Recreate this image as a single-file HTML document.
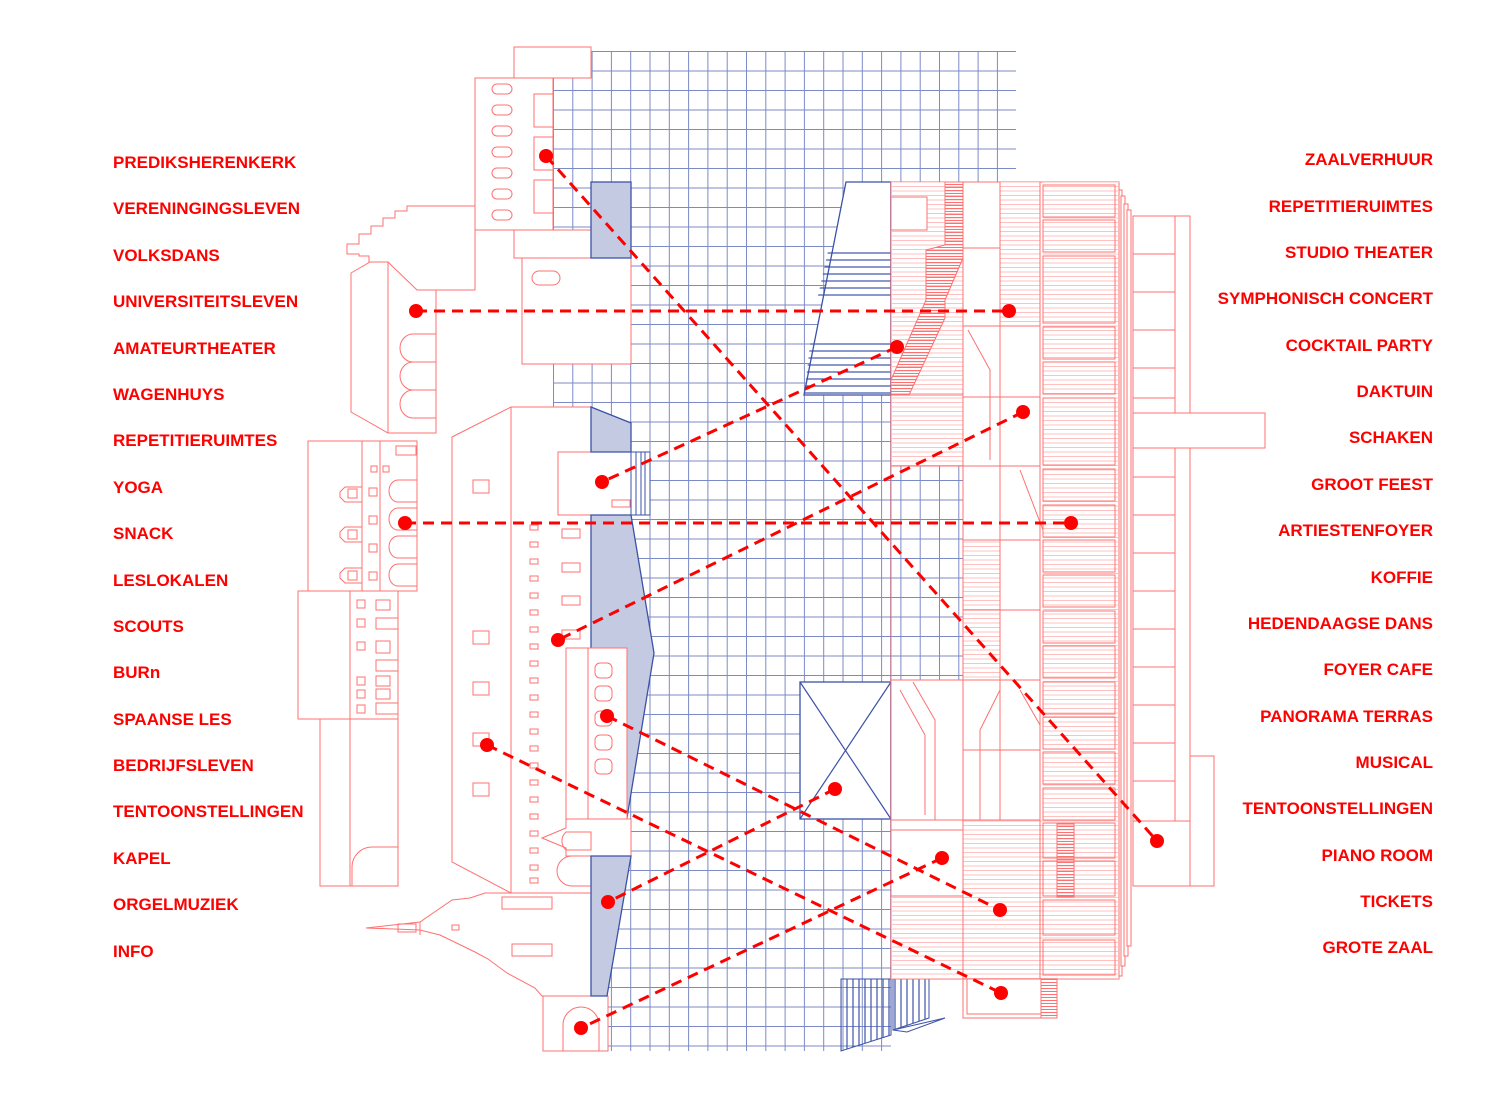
<!DOCTYPE html>
<html><head><meta charset="utf-8"><style>
html,body{margin:0;padding:0;background:#fff;}
svg{display:block;}
text{font-family:"Liberation Sans",sans-serif;font-weight:bold;font-size:17px;fill:#f00;}
</style></head><body>
<svg width="1500" height="1101" viewBox="0 0 1500 1101" xmlns="http://www.w3.org/2000/svg">
<defs>
<pattern id="grid" patternUnits="userSpaceOnUse" x="553" y="51" width="19.3" height="19.5">
<path d="M0.5 0V19.5M0 0.5H19.3" stroke="#7c8ac6" stroke-width="1" fill="none"/>
</pattern>
<pattern id="hatch" patternUnits="userSpaceOnUse" width="10" height="4.5">
<path d="M0 2H10" stroke="#ffc0c0" stroke-width="1"/>
</pattern>
<pattern id="hatchD" patternUnits="userSpaceOnUse" width="10" height="3">
<path d="M0 1.5H10" stroke="#ff7070" stroke-width="1"/>
</pattern>
<pattern id="bstair" patternUnits="userSpaceOnUse" width="10" height="7">
<path d="M0 1H10" stroke="#3c52a8" stroke-width="1.2"/>
</pattern>
<pattern id="vstair" patternUnits="userSpaceOnUse" width="6" height="10">
<path d="M1 0V10" stroke="#3c52a8" stroke-width="1.2"/>
</pattern>
</defs>

<!-- grid -->
<rect x="553" y="51" width="463" height="1000" fill="url(#grid)"/>
<rect x="891" y="979" width="130" height="80" fill="#fff"/>

<g stroke="#ff7070" stroke-width="1" fill="#fff">
<rect x="514" y="47" width="77" height="31"/>
<rect x="475" y="78" width="78" height="152"/>
<rect x="534" y="94" width="19" height="33"/>
<rect x="534" y="137" width="19" height="33"/>
<rect x="534" y="180" width="19" height="33"/>
<g fill="none">
<rect x="492" y="84" width="20" height="10" rx="5"/><rect x="492" y="105" width="20" height="10" rx="5"/>
<rect x="492" y="126" width="20" height="10" rx="5"/><rect x="492" y="147" width="20" height="10" rx="5"/>
<rect x="492" y="168" width="20" height="10" rx="5"/><rect x="492" y="189" width="20" height="10" rx="5"/>
<rect x="492" y="210" width="20" height="10" rx="5"/>
</g>
<rect x="514" y="230" width="77" height="28"/>
<rect x="522" y="258" width="109" height="106"/>
<rect x="532" y="271" width="28" height="14" rx="7" fill="none"/>

<polygon points="347,244 359,244 359,234 371,234 371,226 383,226 383,218 395,218 395,211 407,211 407,206 475,206 475,290 417,290 405,290 405,281 393,281 393,272 381,272 381,263 369,263 369,256 359,256 359,254 347,254"/>
<polygon points="351,273 370,262 388,262 417,290 436,290 436,433 388,433 351,412"/>
<line x1="388" y1="262" x2="388" y2="433"/>
<g fill="none">
<path d="M436 334H413A13 14 0 0 0 413 362H436"/><path d="M436 362H413A13 14 0 0 0 413 390H436"/><path d="M436 390H413A13 14 0 0 0 413 418H436"/>
</g>

<rect x="308" y="441" width="109" height="150"/>
<line x1="362" y1="441" x2="362" y2="591"/><line x1="380" y1="441" x2="380" y2="591"/>
<g fill="none">
<path d="M417 480H398A9 11 0 0 0 398 502H417"/><path d="M417 508H398A9 11 0 0 0 398 530H417"/>
<path d="M417 536H398A9 11 0 0 0 398 558H417"/><path d="M417 564H398A9 11 0 0 0 398 586H417"/>
<rect x="396" y="446" width="20" height="9"/>
<rect x="371" y="466" width="6" height="6"/><rect x="383" y="466" width="6" height="6"/>
<rect x="369" y="488" width="8" height="8"/><rect x="369" y="516" width="8" height="8"/><rect x="369" y="544" width="8" height="8"/><rect x="369" y="572" width="8" height="8"/>
<path d="M362 487H345L340 492V497L345 502H362"/><path d="M362 527H345L340 532V537L345 542H362"/><path d="M362 568H345L340 573V578L345 583H362"/>
<rect x="348" y="489" width="9" height="9"/><rect x="348" y="530" width="9" height="9"/><rect x="348" y="571" width="9" height="9"/>
</g>
<rect x="298" y="591" width="100" height="128"/>
<line x1="350" y1="591" x2="350" y2="719"/>
<g fill="none">
<rect x="357" y="600" width="8" height="8"/><rect x="376" y="600" width="14" height="10"/>
<rect x="357" y="619" width="8" height="8"/><rect x="376" y="618" width="22" height="11"/>
<rect x="357" y="642" width="8" height="8"/><rect x="376" y="641" width="14" height="12"/>
<rect x="376" y="660" width="22" height="11"/>
<rect x="357" y="677" width="8" height="8"/><rect x="376" y="676" width="14" height="10"/>
<rect x="357" y="690" width="8" height="8"/><rect x="376" y="689" width="14" height="10"/>
<rect x="357" y="705" width="8" height="8"/><rect x="376" y="703" width="22" height="11"/>
</g>
<rect x="320" y="719" width="78" height="167"/>
<line x1="350" y1="719" x2="350" y2="886"/>
<path d="M398 847H372A20 20 0 0 0 352 867V886" fill="none"/>

<polygon points="452,437 511,407 591,407 591,893 511,893 452,862"/>
<line x1="511" y1="407" x2="511" y2="893"/>
<g fill="none">
<rect x="473" y="480" width="16" height="13"/><rect x="473" y="631" width="16" height="13"/>
<rect x="473" y="682" width="16" height="13"/><rect x="473" y="733" width="16" height="13"/><rect x="473" y="783" width="16" height="13"/>
<rect x="562" y="529" width="18" height="9"/><rect x="562" y="563" width="18" height="9"/><rect x="562" y="596" width="18" height="9"/><rect x="562" y="630" width="18" height="9"/>
<path d="M530 525h8v5h-8zM530 542h8v5h-8zM530 559h8v5h-8zM530 576h8v5h-8zM530 593h8v5h-8zM530 610h8v5h-8zM530 627h8v5h-8zM530 644h8v5h-8zM530 661h8v5h-8zM530 678h8v5h-8zM530 695h8v5h-8zM530 712h8v5h-8zM530 729h8v5h-8zM530 746h8v5h-8zM530 763h8v5h-8zM530 780h8v5h-8zM530 797h8v5h-8zM530 814h8v5h-8zM530 831h8v5h-8zM530 848h8v5h-8zM530 865h8v5h-8zM530 878h8v5h-8z"/>
</g>
<polygon points="485,893 511,893 591,893 591,996 542,996 535,988 507,973 488,959 475,952 440,935 420,930 366,928 420,922 452,900 470,898"/>
<g fill="none">
<rect x="398" y="924" width="18" height="8"/><rect x="452" y="925" width="7" height="5"/>
<rect x="502" y="897" width="50" height="12"/><rect x="512" y="944" width="40" height="12"/>
<line x1="420" y1="922" x2="420" y2="935"/>
</g>
<rect x="543" y="996" width="65" height="55"/>
<path d="M563 1051V1025A18 18 0 0 1 599 1025V1051" fill="none"/>
<polygon points="566,819 631,819 631,856 566,856 566,848 542,838 566,828"/>
<path d="M591 856H572A15 15 0 0 0 572 886H591" fill="none"/>
<path d="M566 832A12 12 0 0 0 566 850H591V832Z" fill="none"/>
<rect x="558" y="452" width="73" height="63"/>
<rect x="612" y="500" width="18" height="7" fill="none"/>
</g>

<g stroke="#3c52a8" stroke-width="1.3" fill="#c5cae3">
<rect x="591" y="182" width="40" height="76"/>
<polygon points="591,407 631,423 631,452 591,452"/>
<polygon points="591,515 631,515 654,653 627,818 591,818"/>
<polygon points="591,856 631,856 607,996 591,996"/>
</g>
<rect x="631" y="452" width="19" height="63" fill="#fff" stroke="#3c52a8"/>
<path d="M636 452V515M641 452V515M645 452V515" stroke="#3c52a8"/>
<g stroke="#ff7070" fill="#fff">
<rect x="566" y="648" width="61" height="171"/>
<line x1="588" y1="648" x2="588" y2="819"/>
<g fill="none"><rect x="595" y="663" width="17" height="15" rx="5"/><rect x="595" y="686" width="17" height="15" rx="5"/><rect x="595" y="711" width="17" height="15" rx="5"/><rect x="595" y="735" width="17" height="15" rx="5"/><rect x="595" y="759" width="17" height="15" rx="5"/></g>
</g>

<polygon points="846,182 891,182 891,395 804,395" fill="#fff" stroke="#3c52a8" stroke-width="1.3"/>
<polygon points="829,247 891,247 891,300 817,300" fill="url(#bstair)"/>
<polygon points="811,338 891,338 891,395 804,395" fill="url(#bstair)"/>
<rect x="800" y="682" width="91" height="137" fill="#fff" stroke="#3c52a8" stroke-width="1.3"/>
<path d="M800 682L891 819M891 682L800 819" stroke="#3c52a8" stroke-width="1.2"/>
<line x1="891" y1="182" x2="891" y2="979" stroke="#3c52a8" stroke-width="1.5"/>
<polygon points="841,979 891,979 891,1035 841,1051" fill="url(#vstair)" stroke="#3c52a8"/>
<polygon points="893,979 929,979 929,1018 893,1030" fill="url(#vstair)" stroke="#3c52a8"/>
<path d="M893 1030L945 1018L907 1032Z" fill="#fff" stroke="#3c52a8"/>

<g stroke="#ff7070" stroke-width="1">
<rect x="1118" y="190" width="4" height="786" fill="#fff"/>
<rect x="1121" y="196" width="4" height="770" fill="#fff"/>
<rect x="1124" y="204" width="4" height="752" fill="#fff"/>
<rect x="1127" y="210" width="4" height="736" fill="#fff"/>
<rect x="891" y="182" width="228" height="797" fill="#fff"/>
<rect x="1043" y="182" width="76" height="797" fill="url(#hatch)" stroke="none"/>
<rect x="891" y="182" width="72" height="284" fill="url(#hatch)" stroke="none"/>
<rect x="891" y="820" width="72" height="159" fill="url(#hatch)" stroke="none"/>
<rect x="963" y="820" width="80" height="159" fill="url(#hatch)" stroke="none"/>
<rect x="1000" y="182" width="40" height="140" fill="url(#hatch)" stroke="none"/>
<rect x="963" y="540" width="37" height="140" fill="url(#hatch)" stroke="none"/>
<rect x="891" y="466" width="72" height="214" fill="url(#grid)" stroke="#ff7070"/>
<rect x="891" y="820" width="72" height="76" fill="#fff"/>
<rect x="891" y="197" width="36" height="33" fill="#fff"/>
<polygon points="945,182 963,182 963,258 945,300 945,318 909,395 891,395 891,380 926,300 926,250 945,245" fill="url(#hatchD)"/>
<g fill="none">
<path d="M963 182V979M1000 182V820M1040 182V979"/>
<path d="M891 395H963M891 466H963M891 680H963M891 820H1040M963 248H1000M963 326H1040M963 397H1040M963 466H1040M963 540H1040M963 610H1040M963 680H1040M963 750H1040"/>
<path d="M913 682L935 720V820M900 690L925 735V815M1000 690L980 730V820M1020 690L1040 725M968 330L990 370V460M1020 470L1043 530"/>
<rect x="1043" y="185" width="72" height="32"/><rect x="1043" y="220" width="72" height="32"/><rect x="1043" y="256" width="72" height="67"/>
<rect x="1043" y="327" width="72" height="32"/><rect x="1043" y="362" width="72" height="32"/><rect x="1043" y="398" width="72" height="67"/>
<rect x="1043" y="469" width="72" height="32"/><rect x="1043" y="505" width="72" height="32"/><rect x="1043" y="540" width="72" height="32"/>
<rect x="1043" y="575" width="72" height="32"/><rect x="1043" y="611" width="72" height="32"/><rect x="1043" y="646" width="72" height="32"/>
<rect x="1043" y="682" width="72" height="32"/><rect x="1043" y="717" width="72" height="32"/><rect x="1043" y="752" width="72" height="32"/>
<rect x="1043" y="788" width="72" height="32"/><rect x="1043" y="823" width="72" height="35"/><rect x="1043" y="861" width="72" height="35"/>
<rect x="1043" y="900" width="72" height="35"/><rect x="1043" y="940" width="72" height="35"/>
<rect x="891" y="830" width="72" height="66"/>
</g>
<rect x="1057" y="824" width="17" height="73" fill="url(#hatchD)"/>
<rect x="963" y="979" width="94" height="39" fill="#fff"/>
<rect x="967" y="979" width="74" height="35" fill="none"/>
<rect x="1041" y="979" width="16" height="39" fill="url(#hatchD)"/>
<rect x="1133" y="216" width="57" height="670" fill="#fff"/>
<path d="M1133 254H1175M1133 292H1175M1133 330H1175M1133 368H1175M1133 398H1175M1133 477H1175M1133 515H1175M1133 553H1175M1133 591H1175M1133 629H1175M1133 667H1175M1133 705H1175M1133 743H1175M1133 781H1175M1133 821H1190M1175 216V821" fill="none"/>
<rect x="1133" y="413" width="132" height="35" fill="#fff"/>
<rect x="1190" y="756" width="24" height="130" fill="#fff"/>
</g>

<g stroke="#f00" stroke-width="3" stroke-dasharray="11 7" fill="none">
<line x1="546" y1="156" x2="1157" y2="841"/>
<line x1="416" y1="311" x2="1009" y2="311"/>
<line x1="897" y1="347" x2="602" y2="482"/>
<line x1="1023" y1="412" x2="558" y2="640"/>
<line x1="405" y1="523" x2="1071" y2="523"/>
<line x1="607" y1="716" x2="1000" y2="910"/>
<line x1="487" y1="745" x2="1001" y2="993"/>
<line x1="835" y1="789" x2="608" y2="902"/>
<line x1="942" y1="858" x2="581" y2="1028"/>
</g>
<g fill="#f00">
<circle cx="546" cy="156" r="7"/><circle cx="1157" cy="841" r="7"/>
<circle cx="416" cy="311" r="7"/><circle cx="1009" cy="311" r="7"/>
<circle cx="897" cy="347" r="7"/><circle cx="602" cy="482" r="7"/>
<circle cx="1023" cy="412" r="7"/><circle cx="558" cy="640" r="7"/>
<circle cx="405" cy="523" r="7"/><circle cx="1071" cy="523" r="7"/>
<circle cx="607" cy="716" r="7"/><circle cx="1000" cy="910" r="7"/>
<circle cx="487" cy="745" r="7"/><circle cx="1001" cy="993" r="7"/>
<circle cx="835" cy="789" r="7"/><circle cx="608" cy="902" r="7"/>
<circle cx="942" cy="858" r="7"/><circle cx="581" cy="1028" r="7"/>
</g>

<g>
<text x="113" y="168">PREDIKSHERENKERK</text>
<text x="113" y="214">VERENINGINGSLEVEN</text>
<text x="113" y="261">VOLKSDANS</text>
<text x="113" y="307">UNIVERSITEITSLEVEN</text>
<text x="113" y="354">AMATEURTHEATER</text>
<text x="113" y="400">WAGENHUYS</text>
<text x="113" y="446">REPETITIERUIMTES</text>
<text x="113" y="493">YOGA</text>
<text x="113" y="539">SNACK</text>
<text x="113" y="586">LESLOKALEN</text>
<text x="113" y="632">SCOUTS</text>
<text x="113" y="678">BURn</text>
<text x="113" y="725">SPAANSE LES</text>
<text x="113" y="771">BEDRIJFSLEVEN</text>
<text x="113" y="817">TENTOONSTELLINGEN</text>
<text x="113" y="864">KAPEL</text>
<text x="113" y="910">ORGELMUZIEK</text>
<text x="113" y="957">INFO</text>
</g>
<g text-anchor="end">
<text x="1433" y="165">ZAALVERHUUR</text>
<text x="1433" y="212">REPETITIERUIMTES</text>
<text x="1433" y="258">STUDIO THEATER</text>
<text x="1433" y="304">SYMPHONISCH CONCERT</text>
<text x="1433" y="351">COCKTAIL PARTY</text>
<text x="1433" y="397">DAKTUIN</text>
<text x="1433" y="443">SCHAKEN</text>
<text x="1433" y="490">GROOT FEEST</text>
<text x="1433" y="536">ARTIESTENFOYER</text>
<text x="1433" y="583">KOFFIE</text>
<text x="1433" y="629">HEDENDAAGSE DANS</text>
<text x="1433" y="675">FOYER CAFE</text>
<text x="1433" y="722">PANORAMA TERRAS</text>
<text x="1433" y="768">MUSICAL</text>
<text x="1433" y="814">TENTOONSTELLINGEN</text>
<text x="1433" y="861">PIANO ROOM</text>
<text x="1433" y="907">TICKETS</text>
<text x="1433" y="953">GROTE ZAAL</text>
</g>
</svg>
</body></html>
